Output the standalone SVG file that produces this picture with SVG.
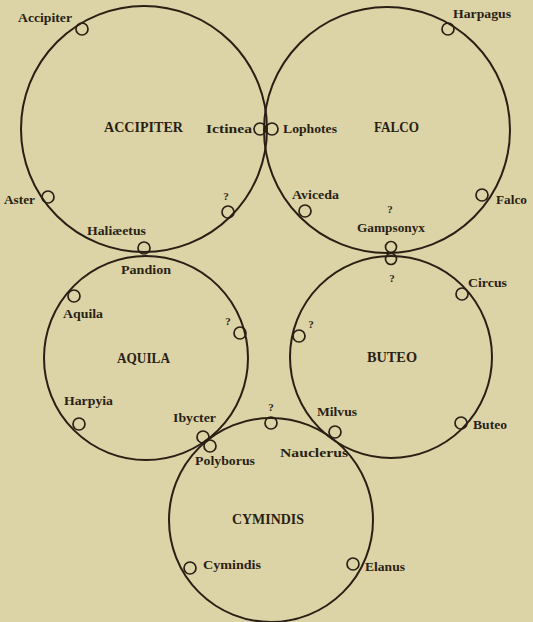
<svg xmlns="http://www.w3.org/2000/svg" width="533" height="622" viewBox="0 0 533 622">
<style>
.bg{fill:#dcd4a6}
.big{fill:none;stroke:#2a1f15;stroke-width:2}
.sm{fill:none;stroke:#2a1f15;stroke-width:1.7}
text{font-family:"Liberation Serif","Times New Roman",serif;font-weight:bold;fill:#2a1f15}
.lb{font-size:13px}
.hd{font-size:14px}
.q{font-size:11px;text-anchor:middle}
</style>
<rect class="bg" x="0" y="0" width="533" height="622"/>

<g id="accipiter-group">
<circle class="big" cx="144" cy="129" r="123"/>
<text class="hd" x="104" y="132" textLength="79" lengthAdjust="spacingAndGlyphs">ACCIPITER</text>
</g>
<g id="falco-group">
<circle class="big" cx="387" cy="130" r="123"/>
<text class="hd" x="374" y="132" textLength="45" lengthAdjust="spacingAndGlyphs">FALCO</text>
</g>
<g id="aquila-group">
<circle class="big" cx="146" cy="358" r="102"/>
<text class="hd" x="117" y="363" textLength="53" lengthAdjust="spacingAndGlyphs">AQUILA</text>
</g>
<g id="buteo-group">
<circle class="big" cx="391" cy="357" r="101"/>
<text class="hd" x="367" y="362" textLength="50" lengthAdjust="spacingAndGlyphs">BUTEO</text>
</g>
<g id="cymindis-group">
<circle class="big" cx="271" cy="520" r="102"/>
<text class="hd" x="232" y="524" textLength="72" lengthAdjust="spacingAndGlyphs">CYMINDIS</text>
</g>

<g id="accipiter">
<circle class="sm" cx="82" cy="29" r="6"/>
<text class="lb" x="18" y="22" textLength="54" lengthAdjust="spacingAndGlyphs">Accipiter</text>
</g>
<g id="ictinea">
<circle class="sm" cx="260" cy="129" r="6"/>
<text class="lb" x="206" y="133" textLength="46" lengthAdjust="spacingAndGlyphs">Ictinea</text>
</g>
<g id="lophotes">
<circle class="sm" cx="272" cy="129" r="6"/>
<text class="lb" x="283" y="133" textLength="54" lengthAdjust="spacingAndGlyphs">Lophotes</text>
</g>
<g id="harpagus">
<circle class="sm" cx="448" cy="29" r="6"/>
<text class="lb" x="453" y="18" textLength="58" lengthAdjust="spacingAndGlyphs">Harpagus</text>
</g>
<g id="aster">
<circle class="sm" cx="48" cy="197" r="6"/>
<text class="lb" x="4" y="204" textLength="31" lengthAdjust="spacingAndGlyphs">Aster</text>
</g>
<g id="accipiter-unknown">
<circle class="sm" cx="228" cy="212" r="6"/>
<text class="q" x="226" y="200">?</text>
</g>
<g id="haliaeetus">
<circle class="sm" cx="144" cy="248" r="6"/>
<text class="lb" x="87" y="235" textLength="59" lengthAdjust="spacingAndGlyphs">Haliæetus</text>
</g>
<g id="pandion">
<text class="lb" x="121" y="274" textLength="50" lengthAdjust="spacingAndGlyphs">Pandion</text>
</g>
<g id="aviceda">
<circle class="sm" cx="305" cy="211" r="6"/>
<text class="lb" x="292" y="199" textLength="47" lengthAdjust="spacingAndGlyphs">Aviceda</text>
</g>
<g id="falco">
<circle class="sm" cx="482" cy="195" r="6"/>
<text class="lb" x="496" y="204" textLength="31" lengthAdjust="spacingAndGlyphs">Falco</text>
</g>
<g id="gampsonyx">
<circle class="sm" cx="391" cy="247" r="5.5"/>
<text class="q" x="390" y="213">?</text>
<text class="lb" x="357" y="232" textLength="68" lengthAdjust="spacingAndGlyphs">Gampsonyx</text>
</g>
<g id="buteo-unknown-top">
<circle class="sm" cx="391" cy="259" r="5.5"/>
<text class="q" x="392" y="282">?</text>
</g>
<g id="circus">
<circle class="sm" cx="462" cy="294" r="6"/>
<text class="lb" x="468" y="287" textLength="39" lengthAdjust="spacingAndGlyphs">Circus</text>
</g>
<g id="aquila">
<circle class="sm" cx="74" cy="296" r="6"/>
<text class="lb" x="63" y="318" textLength="40" lengthAdjust="spacingAndGlyphs">Aquila</text>
</g>
<g id="aquila-unknown">
<circle class="sm" cx="240" cy="333" r="6"/>
<text class="q" x="228" y="325">?</text>
</g>
<g id="harpyia">
<circle class="sm" cx="79" cy="424" r="6"/>
<text class="lb" x="64" y="405" textLength="49" lengthAdjust="spacingAndGlyphs">Harpyia</text>
</g>
<g id="ibycter">
<circle class="sm" cx="203" cy="437" r="6"/>
<text class="lb" x="173" y="422" textLength="43" lengthAdjust="spacingAndGlyphs">Ibycter</text>
</g>
<g id="polyborus">
<circle class="sm" cx="210" cy="446" r="6"/>
<text class="lb" x="195" y="465" textLength="60" lengthAdjust="spacingAndGlyphs">Polyborus</text>
</g>
<g id="buteo-unknown-left">
<circle class="sm" cx="299" cy="336" r="6"/>
<text class="q" x="311" y="328">?</text>
</g>
<g id="milvus">
<circle class="sm" cx="335" cy="432" r="6"/>
<text class="lb" x="317" y="416" textLength="40" lengthAdjust="spacingAndGlyphs">Milvus</text>
</g>
<g id="nauclerus">
<text class="lb" x="280" y="457" textLength="68" lengthAdjust="spacingAndGlyphs">Nauclerus</text>
</g>
<g id="buteo">
<circle class="sm" cx="461" cy="423" r="6"/>
<text class="lb" x="473" y="429" textLength="34" lengthAdjust="spacingAndGlyphs">Buteo</text>
</g>
<g id="cymindis-unknown">
<circle class="sm" cx="271" cy="423" r="6"/>
<text class="q" x="271" y="411">?</text>
</g>
<g id="cymindis">
<circle class="sm" cx="190" cy="568" r="6"/>
<text class="lb" x="203" y="569" textLength="58" lengthAdjust="spacingAndGlyphs">Cymindis</text>
</g>
<g id="elanus">
<circle class="sm" cx="353" cy="564" r="6"/>
<text class="lb" x="365" y="571" textLength="40" lengthAdjust="spacingAndGlyphs">Elanus</text>
</g>
<g id="connectors"></g>
</svg>
